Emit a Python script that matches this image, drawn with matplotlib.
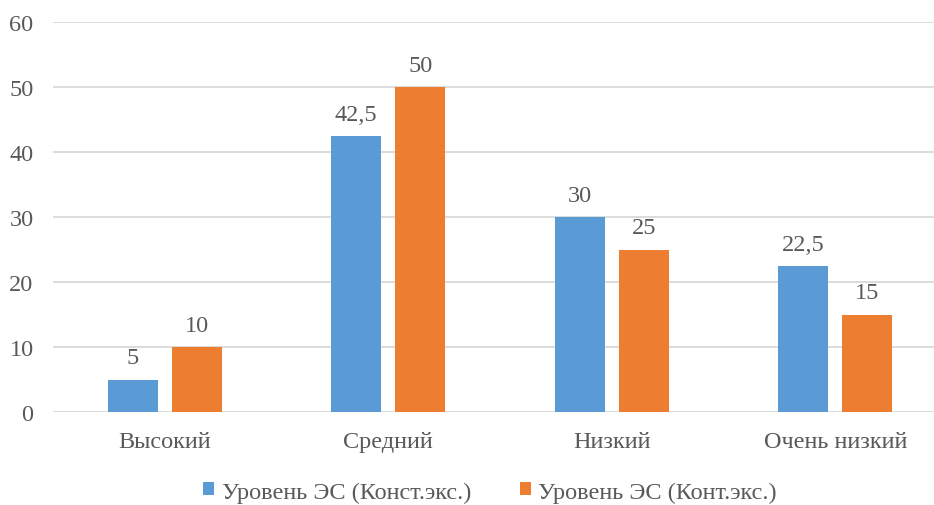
import matplotlib.pyplot as plt
import numpy as np

plt.rcParams["font.family"] = ["Liberation Serif", "DejaVu Serif"]
plt.rcParams["font.size"] = 17.5

# Data
levels = ["Высокий", "Средний", "Низкий", "Очень низкий"]
konst = [5, 42.5, 30, 22.5]
kont = [10, 50, 25, 15]
series_names = ["Уровень ЭС (Конст.экс.)", "Уровень ЭС (Конт.экс.)"]

blue = "#5B9BD5"
orange = "#ED7D31"
text_col = "#595959"

fig = plt.figure(figsize=(9.34, 5.06), dpi=100)
ax = fig.add_axes([53 / 934, (506 - 413) / 506, 894 / 934, 390 / 506])

x = np.arange(len(levels))
w = 0.224
off = 0.143
b1 = ax.bar(x - off, konst, w, color=blue, label=series_names[0], zorder=3)
b2 = ax.bar(x + off, kont, w, color=orange, label=series_names[1], zorder=3)

def fmt(v):
    s = ("%g" % v).replace(".", ",")
    return s

for bars, vals in ((b1, konst), (b2, kont)):
    for rect, v in zip(bars, vals):
        ax.annotate(fmt(v), (rect.get_x() + rect.get_width() / 2, v),
                    xytext=(0, 8), textcoords="offset points",
                    ha="center", va="bottom", color=text_col)

ax.set_xlim(-0.5, len(levels) - 0.5)
ax.set_ylim(0, 60)
ax.set_yticks(range(0, 61, 10))
ax.set_xticks(x)
ax.set_xticklabels(levels)
ax.yaxis.grid(True, color="#d9d9d9", linewidth=1.3, zorder=0)
ax.set_axisbelow(True)
for s in ax.spines.values():
    s.set_visible(False)
ax.tick_params(axis="both", length=0, colors=text_col)
ax.tick_params(axis="y", pad=14)
ax.tick_params(axis="x", pad=14)

fig.legend(handles=[b1, b2], loc="center", bbox_to_anchor=(490 / 934, 1 - 493 / 506),
           ncol=2, frameon=False, handlelength=0.45, handleheight=0.45,
           handletextpad=0.3, columnspacing=2.0, labelcolor=text_col)

fig.savefig("out.png", dpi=100)
